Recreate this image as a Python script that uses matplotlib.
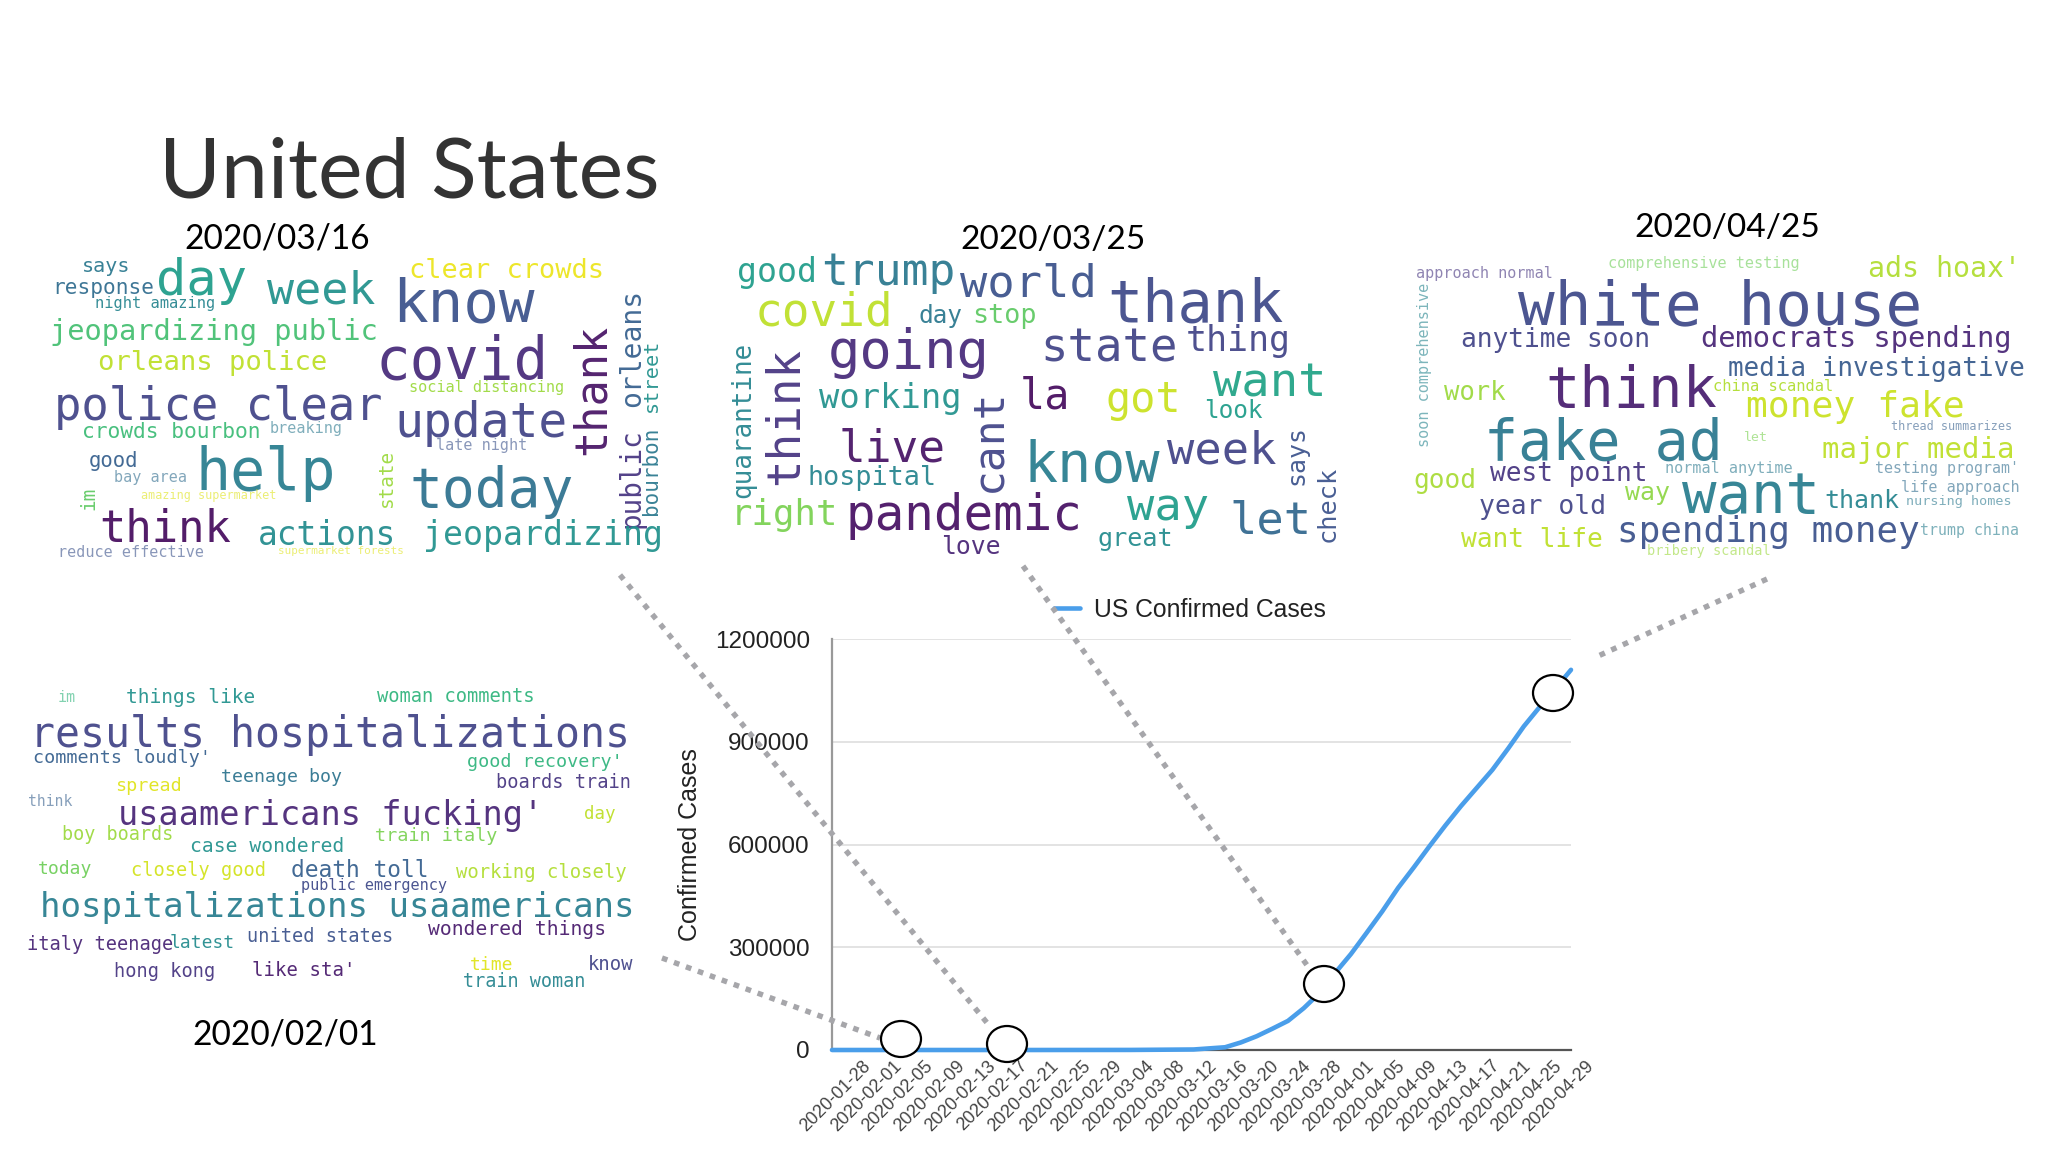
"""United States slide: word clouds around the confirmed cases curve."""

import matplotlib

matplotlib.use("Agg")
import matplotlib.pyplot as plt
import matplotlib.transforms as mtransforms
import pandas as pd
from matplotlib.patches import Ellipse

DPI = 100
W, H = 2048, 1152

# curve
DATES = ["2020-01-26", "2020-02-01", "2020-02-21", "2020-03-04", "2020-03-12", "2020-03-16",
         "2020-03-18", "2020-03-20", "2020-03-22", "2020-03-24", "2020-03-26", "2020-03-28",
         "2020-03-30", "2020-04-01", "2020-04-03", "2020-04-05", "2020-04-07", "2020-04-09",
         "2020-04-11", "2020-04-13", "2020-04-15", "2020-04-17", "2020-04-19", "2020-04-21",
         "2020-04-23", "2020-04-25", "2020-04-27", "2020-04-29"]
CASES = [0, 0, 0, 200, 1500, 8000, 22000, 40000, 62000, 85000, 122000, 166000,
         225000, 280000, 342000, 405000, 473000, 533000, 595000, 655000, 712000, 765000,
         818000, 880000, 945000, 1001000, 1055000, 1110000]
TICK_DATES = ["2020-01-28", "2020-02-01", "2020-02-05", "2020-02-09", "2020-02-13", "2020-02-17",
              "2020-02-21", "2020-02-25", "2020-02-29", "2020-03-04", "2020-03-08", "2020-03-12",
              "2020-03-16", "2020-03-20", "2020-03-24", "2020-03-28", "2020-04-01", "2020-04-05",
              "2020-04-09", "2020-04-13", "2020-04-17", "2020-04-21", "2020-04-25", "2020-04-29"]
Y_TICKS = [0, 300000, 600000, 900000, 1200000]

# word clouds: words + viridis shade, placement is kept further down
WORDS_0316 = ["says", "day", "week", "response", "night amazing", "clear crowds", "know",
              "jeopardizing public", "orleans police", "covid", "thank", "orleans", "street",
              "public", "bourbon", "social distancing", "police clear", "crowds bourbon",
              "breaking", "update", "late night", "good", "bay area", "help", "state", "today",
              "im", "amazing supermarket", "think", "actions", "jeopardizing",
              "reduce effective", "supermarket forests"]
SHADE_0316 = [.4, .55, .5, .35, .45, .97, .25, .7, .9, .12, .05, .3, .5, .15, .4, .85, .2, .68,
              .4, .2, .25, .3, .35, .42, .85, .37, .75, .95, .03, .48, .5, .25, .95]

WORDS_0325 = ["good", "trump", "world", "thank", "covid", "day", "stop", "state", "thing", "going",
              "want", "la", "got", "working", "look", "think", "quarantine", "cant", "live",
              "know", "week", "hospital", "says", "check", "right", "pandemic", "way", "let",
              "great", "love"]
SHADE_0325 = [.55, .4, .25, .22, .9, .4, .75, .2, .2, .12, .58, .03, .92, .5, .55, .15, .45, .2,
              .05, .42, .2, .45, .25, .25, .8, .04, .55, .33, .48, .1]

WORDS_0425 = ["approach normal", "comprehensive testing", "ads hoax'", "white house",
              "soon comprehensive", "anytime soon", "democrats spending", "media investigative",
              "think", "china scandal", "work", "money fake", "thread summarizes", "let",
              "fake ad", "major media", "west point", "normal anytime", "testing program'", "good",
              "life approach", "way", "want", "thank", "nursing homes", "year old", "want life",
              "spending money", "trump china", "bribery scandal"]
SHADE_0425 = [.15, .78, .88, .22, .45, .2, .1, .28, .08, .88, .85, .92, .3, .8, .4, .9, .15, .4,
              .35, .87, .35, .83, .42, .45, .4, .2, .9, .25, .42, .85]

WORDS_0201 = ["im", "things like", "woman comments", "results hospitalizations",
              "comments loudly'", "good recovery'", "teenage boy", "spread", "boards train",
              "think", "usaamericans fucking'", "day", "boy boards", "train italy",
              "case wondered", "today", "closely good", "death toll", "working closely",
              "public emergency", "hospitalizations usaamericans", "wondered things",
              "italy teenage", "latest", "united states", "hong kong", "like sta'", "time",
              "know", "train woman"]
SHADE_0201 = [.65, .5, .65, .2, .3, .65, .38, .95, .15, .3, .1, .9, .85, .8, .5, .78, .93, .3, .88,
              .22, .42, .07, .1, .48, .25, .15, .07, .95, .2, .45]

# (start, end, baseline, rotation) in crop pixels; for rotation 90 start/end run bottom to top
BOX_0316 = [(188, 300, 155, 0), (360, 570, 225, 0), (615, 865, 250, 0), (120, 355, 222, 0),
            (220, 497, 265, 0), (943, 1393, 175, 0), (905, 1235, 305, 0), (115, 875, 360, 0),
            (225, 755, 450, 0), (865, 1265, 475, 0), (705, 310, 1395, 90), (560, 205, 1475, 90),
            (575, 355, 1515, 90), (925, 625, 1475, 90), (885, 620, 1515, 90), (943, 1305, 515, 0),
            (125, 885, 600, 0), (190, 605, 655, 0), (622, 790, 640, 0), (910, 1310, 650, 0),
            (1005, 1215, 690, 0), (205, 320, 740, 0), (262, 430, 785, 0), (450, 775, 810, 0),
            (860, 685, 903, 90), (945, 1325, 860, 0), (870, 800, 218, 90), (325, 635, 838, 0),
            (230, 535, 965, 0), (595, 915, 975, 0), (975, 1530, 975, 0), (133, 470, 1010, 0),
            (640, 930, 1003, 0)]
BOX_0325 = [(65, 255, 185, 0), (265, 585, 195, 0), (595, 920, 230, 0), (945, 1365, 305, 0),
            (105, 435, 315, 0), (495, 600, 310, 0), (622, 775, 308, 0), (785, 1112, 425, 0),
            (1130, 1380, 393, 0), (280, 665, 445, 0), (1195, 1465, 530, 0), (735, 855, 565, 0),
            (940, 1120, 575, 0), (258, 597, 565, 0), (1175, 1315, 595, 0), (795, 380, 210, 90),
            (835, 365, 95, 90), (815, 505, 690, 90), (305, 560, 725, 0), (745, 1070, 785, 0),
            (1085, 1345, 730, 0), (232, 538, 795, 0), (795, 615, 1410, 90), (965, 735, 1485, 90),
            (50, 305, 915, 0), (322, 885, 930, 0), (990, 1185, 900, 0), (1235, 1430, 940, 0),
            (920, 1100, 978, 0), (548, 690, 1003, 0)]
BOX_0425 = [(62, 388, 205, 0), (520, 980, 175, 0), (1140, 1505, 200, 0), (305, 1270, 343, 0),
            (710, 215, 92, 90), (170, 622, 412, 0), (740, 1485, 410, 0), (805, 1512, 497, 0),
            (370, 780, 590, 0), (770, 1058, 542, 0), (128, 275, 570, 0), (848, 1370, 620, 0),
            (1195, 1483, 660, 0), (843, 900, 692, 0), (225, 795, 750, 0), (1030, 1488, 743, 0),
            (238, 615, 813, 0), (655, 960, 790, 0), (1155, 1500, 790, 0), (55, 205, 835, 0),
            (1218, 1500, 845, 0), (560, 668, 870, 0), (695, 1025, 912, 0), (1035, 1215, 895, 0),
            (1230, 1482, 885, 0), (212, 515, 912, 0), (170, 510, 1012, 0), (540, 1265, 995, 0),
            (1262, 1497, 975, 0), (612, 905, 1035, 0)]
BOX_0201 = [(133, 175, 95, 0), (290, 588, 100, 0), (870, 1235, 97, 0), (70, 1455, 230, 0),
            (75, 485, 280, 0), (1078, 1438, 292, 0), (510, 790, 337, 0), (265, 418, 362, 0),
            (1143, 1453, 355, 0), (65, 168, 408, 0), (272, 1255, 465, 0), (1347, 1420, 447, 0),
            (142, 400, 510, 0), (865, 1148, 512, 0), (438, 792, 545, 0), (87, 212, 612, 0),
            (303, 613, 618, 0), (670, 988, 620, 0), (1052, 1445, 625, 0), (695, 1035, 660, 0),
            (92, 1467, 742, 0), (988, 1397, 795, 0), (62, 398, 840, 0), (390, 540, 835, 0),
            (570, 907, 815, 0), (263, 497, 922, 0), (580, 818, 917, 0), (1083, 1183, 900, 0),
            (1355, 1460, 900, 0), (1068, 1352, 952, 0)]

fig = plt.figure(figsize=(W / DPI, H / DPI), dpi=DPI)
renderer = fig.canvas.get_renderer()

# chart
ax = fig.add_axes([832 / W, (H - 1050) / H, 739 / W, 411 / H])
dates = pd.to_datetime(DATES)
ax.plot(dates, CASES, color="#4a9eea", linewidth=3.3, solid_capstyle="round",
        label="US Confirmed Cases", clip_on=False, zorder=3)
ax.set_xlim(pd.Timestamp("2020-01-26"), pd.Timestamp("2020-04-29"))
ax.set_ylim(0, 1200000)
ax.set_yticks(Y_TICKS)
ax.set_yticklabels([str(v) for v in Y_TICKS], family="Liberation Sans", fontsize=17.5, color="#222222")
for lab in ax.get_yticklabels():
    lab.set_transform(lab.get_transform() + mtransforms.ScaledTranslation(0, -1.5 / DPI, fig.dpi_scale_trans))
ax.set_xticks(pd.to_datetime(TICK_DATES))
ax.set_xticklabels(TICK_DATES, family="Liberation Sans", fontsize=13, color="#444444")
ax.tick_params(axis="both", length=0)
ax.tick_params(axis="x", pad=9.5)
ax.tick_params(axis="y", pad=16)
offset = mtransforms.ScaledTranslation(20 / DPI, 0, fig.dpi_scale_trans)
for lab in ax.get_xticklabels():
    lab.set_rotation(45)
    lab.set_ha("right")
    lab.set_va("center")
    lab.set_rotation_mode("anchor")
    lab.set_transform(lab.get_transform() + offset)
ax.set_ylabel("Confirmed Cases", family="Liberation Sans", fontsize=18, color="#222222", labelpad=9)
ax.grid(axis="y", color="#dedede", linewidth=1.2)
ax.set_axisbelow(True)
for side in ["top", "right"]:
    ax.spines[side].set_visible(False)
ax.spines["left"].set_color("#999999")
ax.spines["left"].set_linewidth(1.6)
ax.spines["bottom"].set_color("#555555")
ax.spines["bottom"].set_linewidth(1.6)
ax.legend(loc="center", bbox_to_anchor=(1190 / W, (H - 610) / H), bbox_transform=fig.transFigure,
          frameon=False, prop={"family": "Liberation Sans", "size": 17.8}, handlelength=1.05,
          handletextpad=0.6, labelcolor="#222222")

# overlay in reference pixels
ov = fig.add_axes([0, 0, 1, 1], zorder=5)
ov.set_xlim(0, W)
ov.set_ylim(H, 0)
ov.axis("off")


def fit_text(x, y, text, length, rotation=0, **kw):
    """Scale the font so that the text spans the given pixel length."""
    t = ov.text(x, y, text, fontsize=10, rotation=rotation, rotation_mode="anchor",
                ha="left", va="baseline", **kw)
    ext = t.get_window_extent(renderer)
    size = ext.height if rotation == 90 else ext.width
    t.set_fontsize(10 * length / size)
    return t


def draw_cloud(words, shades, boxes, origin, scale):
    ox, oy = origin
    sx, sy = scale
    for word, shade, (a, b, c, rot) in zip(words, shades, boxes):
        color = plt.cm.viridis(shade)
        if rot == 90:
            t = fit_text(ox + c / sx, oy + a / sy, word, (a - b) / sy, rotation=90,
                         family="DejaVu Sans Mono", color=color)
        else:
            t = fit_text(ox + a / sx, oy + c / sy, word, (b - a) / sx,
                         family="DejaVu Sans Mono", color=color)
        # small words are washed out in the screenshot, big ones stay dark
        t.set_alpha(0.6 if t.get_fontsize() < 11 else 0.93)


draw_cloud(WORDS_0316, SHADE_0316, BOX_0316, (0, 220), (2.306, 3))
draw_cloud(WORDS_0325, SHADE_0325, BOX_0325, (710, 220), (2.376, 3))
draw_cloud(WORDS_0425, SHADE_0425, BOX_0425, (1390, 210), (2.383, 3))
draw_cloud(WORDS_0201, SHADE_0201, BOX_0201, (0, 670), (2.306, 3))

fit_text(159, 198, "United States", 501, family="Lato", color="#333333")
fit_text(184, 249, "2020/03/16", 186, family="Lato", color="black")
fit_text(960, 249, "2020/03/25", 185, family="Lato", color="black")
fit_text(1634, 237, "2020/04/25", 186, family="Lato", color="black")
fit_text(192, 1045, "2020/02/01", 186, family="Lato", color="black")

# dotted leaders from the clouds to the curve
for (x0, y0), (x1, y1) in [((620, 575), (988, 1024)), ((1023, 566), (1309, 968)),
                           ((662, 958), (880, 1038)), ((1767, 579), (1596, 657))]:
    ov.plot([x0, x1], [y0, y1], color="#a6a6aa", linewidth=3.9, linestyle=(0, (1.05, 1.3)),
            dash_capstyle="butt", zorder=4)

for cx, cy in [(901, 1039), (1007, 1044), (1324, 984), (1553, 693)]:
    ov.add_patch(Ellipse((cx, cy), 40, 36, facecolor="white", edgecolor="black", linewidth=1.6, zorder=6))

fig.savefig("out.png", dpi=DPI)
plt.close(fig)
